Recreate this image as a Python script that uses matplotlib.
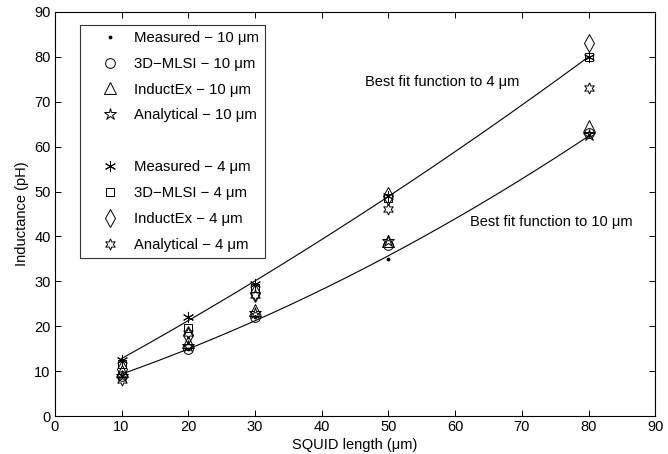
import numpy as np
import matplotlib
matplotlib.use("Agg")
import matplotlib.pyplot as plt

plt.rcParams['font.family'] = ['Liberation Sans', 'DejaVu Sans']

lengths = [10, 20, 30, 50, 80]

meas_10 = [9.0, 15.0, 22.0, 35.0, 62.5]
mlsi_10 = [9.0, 15.0, 22.0, 38.0, 63.0]
indx_10 = [10.0, 16.5, 23.5, 39.0, 64.5]
anal_10 = [9.0, 15.5, 23.0, 39.0, 62.5]

meas_4 = [12.5, 22.0, 29.5, 49.0, 80.0]
mlsi_4 = [11.5, 19.5, 28.5, 48.5, 80.0]
indx_4 = [10.5, 18.0, 27.5, 49.0, 83.0]
anal_4 = [8.0, 18.5, 27.0, 46.0, 73.0]

labels_10 = ["Measured \u2212 10 \u03bcm", "3D\u2212MLSI \u2212 10 \u03bcm",
             "InductEx \u2212 10 \u03bcm", "Analytical \u2212 10 \u03bcm"]
labels_4 = ["Measured \u2212 4 \u03bcm", "3D\u2212MLSI \u2212 4 \u03bcm",
            "InductEx \u2212 4 \u03bcm", "Analytical \u2212 4 \u03bcm"]

fig = plt.figure(figsize=(6.68, 4.54), dpi=100)
ax = fig.add_axes([0.082, 0.0837, 0.899, 0.89])

x = np.array(lengths, dtype=float)
xf = np.linspace(10, 80, 200)
for meas in (meas_4, meas_10):
    c = np.polyfit(x, np.array(meas), 2)
    ax.plot(xf, np.polyval(c, xf), color='black', lw=0.8)

mk = dict(color='black', linestyle='none', markerfacecolor='none', markeredgewidth=0.7)
hs = []
hs.append(ax.plot(x, meas_10, marker='.', markersize=3.5, color='black', linestyle='none')[0])
hs.append(ax.plot(x, mlsi_10, marker='o', markersize=7, **mk)[0])
hs.append(ax.plot(x, indx_10, marker='^', markersize=8, **mk)[0])
hs.append(ax.plot(x, anal_10, marker='*', markersize=9, **mk)[0])
hs.append(ax.plot([], [], linestyle='none', marker='none')[0])
hs.append(ax.plot(x, meas_4, marker=(6, 2, 0), markersize=8, color='black', linestyle='none', markeredgewidth=0.7)[0])
hs.append(ax.plot(x, mlsi_4, marker='s', markersize=6, **mk)[0])
hs.append(ax.plot(x, indx_4, marker='d', markersize=9, **mk)[0])
hs.append(ax.plot(x, anal_4, marker=(6, 1, 0), markersize=8, **mk)[0])

labs = labels_10 + [" "] + labels_4
leg = ax.legend(hs, labs, loc='upper left', bbox_to_anchor=(0.042, 0.968),
                fontsize=10.7, frameon=True, fancybox=False, edgecolor='black',
                handlelength=3.2, handletextpad=0.02, borderpad=0.4, labelspacing=0.8,
                borderaxespad=0.0)
leg.get_frame().set_linewidth(0.8)

ax.text(46.5, 74.4, "Best fit function to 4 \u03bcm", fontsize=10.5, ha='left', va='center')
ax.text(62.2, 43.2, "Best fit function to 10 \u03bcm", fontsize=10.5, ha='left', va='center')

ax.set_xlim(0, 90)
ax.set_ylim(0, 90)
ax.set_xticks(np.arange(0, 91, 10))
ax.set_yticks(np.arange(0, 91, 10))
ax.tick_params(direction='in', top=True, right=True, labelsize=10.5, length=4, width=0.7, pad=3)
for s in ax.spines.values():
    s.set_linewidth(0.8)
ax.set_xlabel("SQUID length (\u03bcm)", fontsize=10.5, labelpad=2.5)
ax.set_ylabel("Inductance (pH)", fontsize=10.5, labelpad=4)

fig.savefig("out.png", dpi=100)
